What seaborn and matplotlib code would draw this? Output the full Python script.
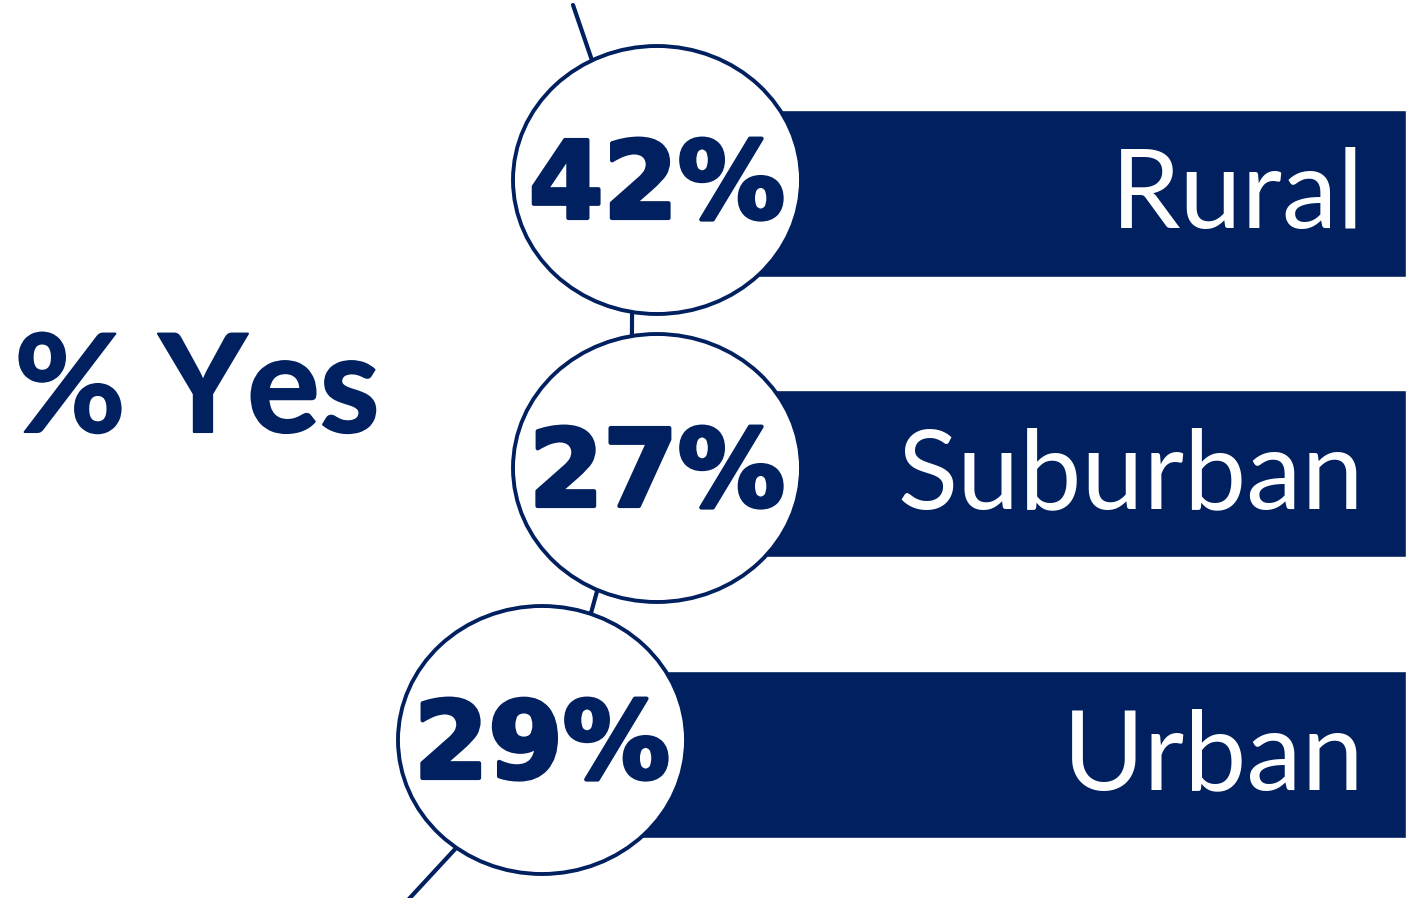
import matplotlib
matplotlib.use('Agg')
from matplotlib import pyplot as plt
from matplotlib.patches import Ellipse
import matplotlib.patheffects as pe
import seaborn as sns

categories = ['Rural', 'Suburban', 'Urban']
pct_yes = [42, 27, 29]
title = '% Yes'

NAVY = '#002060'

# layout in pixel units (figure is 1406 x 898)
W, H = 1406, 898
row_y = [193, 473, 754]
circle_x = [657, 657, 542]
circle_y = [180, 468, 740]
path_x = [573, 633, 631, 556, 408]
path_y = [5, 180, 468, 740, 900]

sns.set_theme(style='white')
plt.rcParams['font.family'] = ['Lato', 'DejaVu Sans']

fig = plt.figure(figsize=(W / 100, H / 100), dpi=100)
ax = fig.add_axes([0, 0, 1, 1])
ax.set_xlim(0, W)
ax.set_ylim(H, 0)
ax.axis('off')

# label bars
ax.barh(row_y, [W - cx for cx in circle_x], left=circle_x, height=167,
        color=NAVY, zorder=1)
for y, cat in zip(row_y, categories):
    ax.text(1364, y + 35, cat, ha='right', va='baseline', color='white',
            fontsize=80, zorder=2)

# connector line behind the circles
sns.lineplot(x=path_x, y=path_y, ax=ax, color=NAVY, linewidth=3,
             sort=False, zorder=3)

heavy = [pe.withStroke(linewidth=3, foreground=NAVY)]
for cx, cy, v in zip(circle_x, circle_y, pct_yes):
    ax.add_patch(Ellipse((cx, cy), 288, 268, facecolor='white',
                         edgecolor=NAVY, linewidth=2.8, zorder=4))
    ax.text(cx, cy + 38, f'{v}%', ha='center', va='baseline', color=NAVY,
            fontsize=77, fontweight='bold', family='DejaVu Sans',
            path_effects=heavy, zorder=5)

ax.text(197, 432, title, ha='center', va='baseline', color=NAVY,
        fontsize=98, fontweight='bold',
        path_effects=[pe.withStroke(linewidth=1.5, foreground=NAVY)])

fig.savefig('out.png', dpi=100)
plt.close(fig)
